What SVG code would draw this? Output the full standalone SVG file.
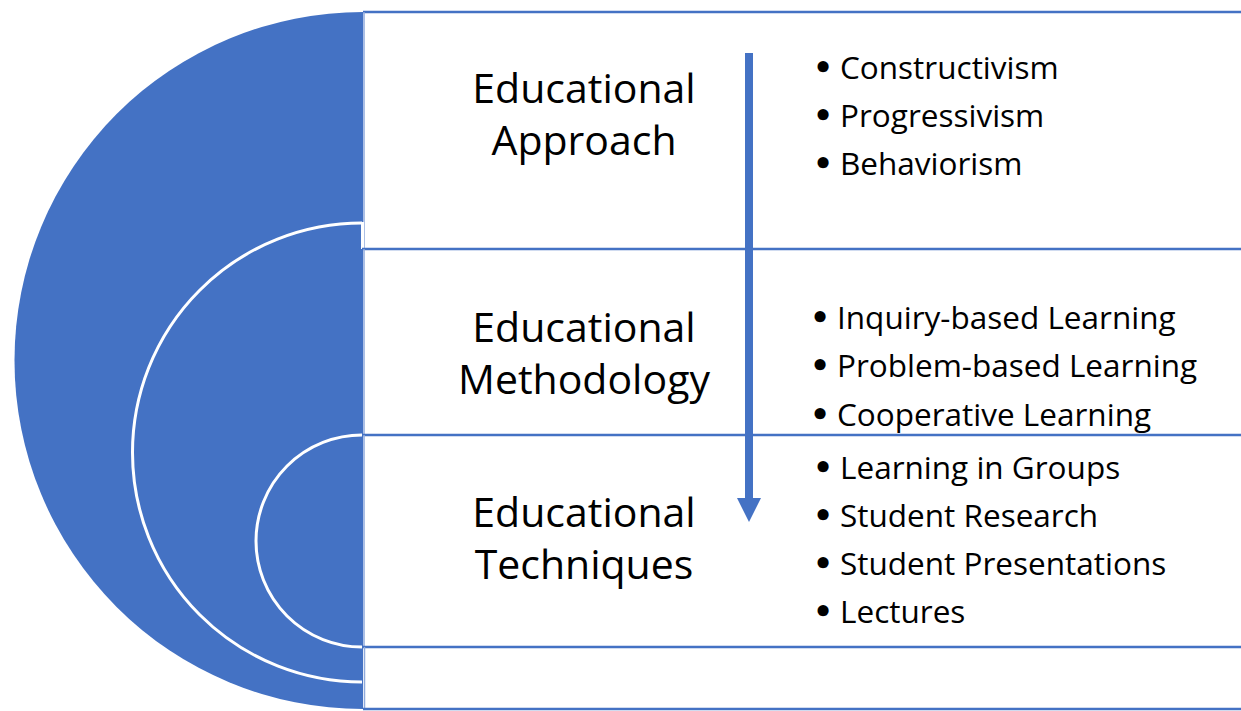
<svg xmlns="http://www.w3.org/2000/svg" width="1241" height="711" viewBox="0 0 1241 711">
<style>
.band{fill:#ffffff;stroke:none}
.hl{stroke:#4472C4;stroke-width:2.5;fill:none}
.vl{stroke:#8FAADC;stroke-width:1.5;fill:none}
.arc{stroke:#ffffff;stroke-width:3;fill:none}
.head{font-family:"Open Sans","Noto Sans",sans-serif;font-size:41px;fill:#000;text-anchor:middle}
.item{font-family:"Open Sans","Noto Sans",sans-serif;font-size:31.5px;fill:#000}
.bul{font-family:"DejaVu Sans",sans-serif;font-weight:bold}
</style>
<rect x="0" y="0" width="1241" height="711" fill="#ffffff"/>
<g id="target">
<path d="M363 12 A348.5 348.5 0 0 0 363 709 Z" fill="#4472C4"/>
</g>
<g id="approach">
<rect class="band" x="364" y="12" width="877" height="237"/>
<line class="hl" x1="363" y1="12" x2="1241" y2="12"/>
<line class="vl" x1="364" y1="12" x2="364" y2="249"/>
<text class="head" x="584" y="103">Educational</text>
<text class="head" x="584" y="155">Approach</text>
<text class="item" x="813" y="79"><tspan class="bul">•</tspan><tspan x="840">Constructivism</tspan></text>
<text class="item" x="813" y="127"><tspan class="bul">•</tspan><tspan x="840">Progressivism</tspan></text>
<text class="item" x="813" y="175"><tspan class="bul">•</tspan><tspan x="840">Behaviorism</tspan></text>
</g>
<g id="methodology">
<rect class="band" x="364" y="249" width="877" height="186"/>
<path class="arc" d="M362 223 A229.5 229.5 0 0 0 362 682"/>
<line class="arc" x1="362.5" y1="222" x2="362.5" y2="249"/>
<line class="hl" x1="362" y1="249" x2="1241" y2="249"/>
<line class="vl" x1="364" y1="249" x2="364" y2="435"/>
<text class="head" x="584" y="342">Educational</text>
<text class="head" x="584" y="394">Methodology</text>
<text class="item" x="810" y="329"><tspan class="bul">•</tspan><tspan x="837">Inquiry-based Learning</tspan></text>
<text class="item" x="810" y="377"><tspan class="bul">•</tspan><tspan x="837">Problem-based Learning</tspan></text>
<text class="item" x="810" y="426"><tspan class="bul">•</tspan><tspan x="837">Cooperative Learning</tspan></text>
</g>
<g id="techniques">
<rect class="band" x="364" y="435" width="877" height="212"/>
<path class="arc" d="M362 435 A106 106 0 0 0 362 647"/>
<line class="hl" x1="362" y1="435" x2="1241" y2="435"/>
<line class="vl" x1="364" y1="435" x2="364" y2="647"/>
<text class="head" x="584" y="527">Educational</text>
<text class="head" x="584" y="579">Techniques</text>
<text class="item" x="813" y="479"><tspan class="bul">•</tspan><tspan x="840">Learning in Groups</tspan></text>
<text class="item" x="813" y="527"><tspan class="bul">•</tspan><tspan x="840">Student Research</tspan></text>
<text class="item" x="813" y="575"><tspan class="bul">•</tspan><tspan x="840">Student Presentations</tspan></text>
<text class="item" x="813" y="623"><tspan class="bul">•</tspan><tspan x="840">Lectures</tspan></text>
</g>
<g id="base">
<line class="hl" x1="362" y1="647" x2="1241" y2="647"/>
<line class="vl" x1="364.5" y1="647" x2="364.5" y2="709"/>
<line class="hl" x1="363" y1="709" x2="1241" y2="709"/>
</g>
<g id="connectors">
<rect x="745" y="53" width="8" height="447" fill="#4472C4"/>
<polygon points="737,498 761,498 749,522" fill="#4472C4"/>
</g>
</svg>
